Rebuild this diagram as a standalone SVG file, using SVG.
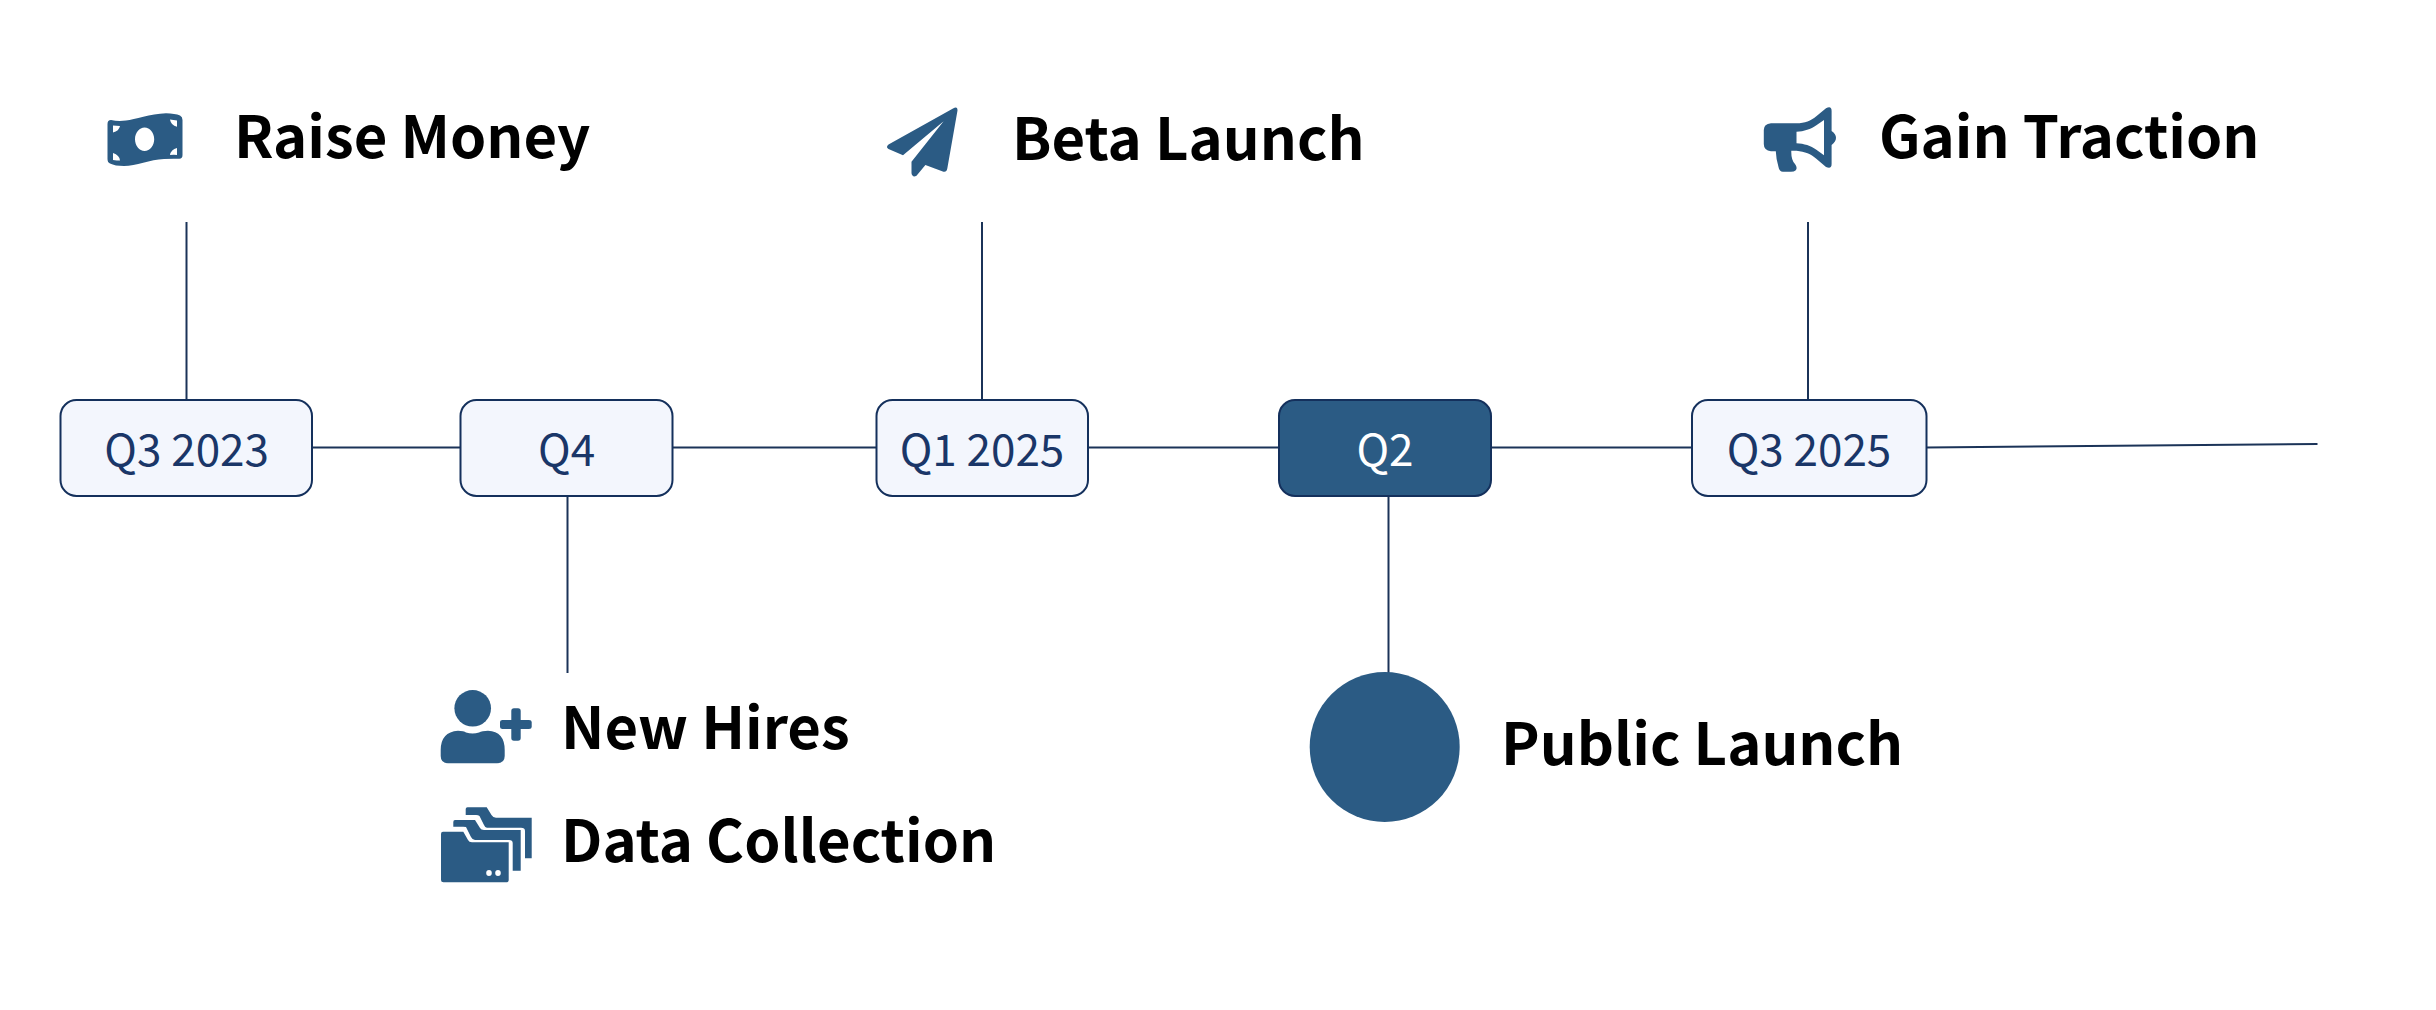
<svg xmlns="http://www.w3.org/2000/svg" width="2436" height="1010" viewBox="0 0 2436 1010">
<style>
.box{fill:#f3f6fd;stroke:#14305c;stroke-width:2}
.box.on{fill:#2b5b84}
.q{font-family:"Noto Sans CJK SC","Noto Sans",sans-serif;font-size:44px;fill:#1a3668;text-anchor:middle}
.q.on{fill:#fff}
.h{font-family:"Noto Sans CJK SC","Noto Sans",sans-serif;font-size:58px;font-weight:700;fill:#000}
.ic{fill:#2b5b84}
.hole{fill:#fff}
#connectors path{fill:none;stroke:#1b3358;stroke-width:2}
</style>
<rect width="2436" height="1010" fill="#fff"/>
<g id="connectors">
<path d="M186.5 222V399"/>
<path d="M982 222V399"/>
<path d="M1808 222V399"/>
<path d="M312 447.5H460.5"/>
<path d="M672.5 447.5H876.5"/>
<path d="M1088 447.5H1279"/>
<path d="M1491 447.5H1692"/>
<path d="M1926.5 447.5L2317.5 444"/>
<path d="M567.5 496V673"/>
<path d="M1388.5 496V673"/>
</g>
<g id="node-q3-2023"><rect class="box" x="60.5" y="400" width="251.5" height="96" rx="16"/><text class="q" x="186.6" y="466">Q3 2023</text></g>
<g id="node-q4"><rect class="box" x="460.5" y="400" width="212" height="96" rx="16"/><text class="q" x="566.6" y="466">Q4</text></g>
<g id="node-q1-2025"><rect class="box" x="876.5" y="400" width="211.5" height="96" rx="16"/><text class="q" x="982" y="466">Q1 2025</text></g>
<g id="node-q2"><rect class="box on" x="1279" y="400" width="212" height="96" rx="16"/><text class="q on" x="1385" y="466">Q2</text></g>
<g id="node-q3-2025"><rect class="box" x="1692" y="400" width="234.5" height="96" rx="16"/><text class="q" x="1809" y="466">Q3 2025</text></g>
<g id="node-raise-money">
<path class="ic" fill-rule="evenodd" d="M107.500 124Q107.500 120 111 120Q118 121.500 126 120.500C135 119.500 150 114 166 113.300Q175 113.500 180 115.500Q182.500 116.700 182.500 120V155Q182.500 159 179 158.800Q172 158.500 164 159C150 159.500 136 166 124 166Q115 166 110 163.500Q107.500 162.500 107.500 159ZM144.600 127.600C139.300 127.600 135 132.800 135 139.300C135 145.800 139.300 151 144.600 151C149.900 151 154.200 145.800 154.200 139.300C154.200 132.800 149.900 127.600 144.600 127.600ZM113 125.500V132.500Q119 131 120 126ZM170 119.500Q171 125.500 177 126.700V120.500ZM113 153V160Q117 160.500 120 160.500Q119.500 155 113 153ZM177 148Q171 149.500 170 155Q174 154.500 177 155Z"/>
<text class="h" x="234" y="157.700">Raise Money</text>
</g>
<g id="node-beta-launch">
<path class="ic" d="M953 108.500Q957.500 105.500 957.500 110.500L947.300 168.500Q946.500 172.500 943.500 171.700L925.400 165L916.500 175.700Q912.500 178 911.500 173.300V161.700L943.600 121.300L903 155.300L888.500 149Q885.500 147 888.500 144.500Z"/>
<text class="h" x="1012" y="160">Beta Launch</text>
</g>
<g id="node-gain-traction">
<path class="ic" fill-rule="evenodd" d="M1771 123.300H1796.500C1805 123.300 1811 120.500 1816 116.500L1826 108.300Q1831.600 105.500 1831.600 111V131Q1836 134 1836 137.700Q1836 141.500 1831.600 145V164Q1831.600 169.500 1826 167L1816 158.500C1811 154 1805 151.500 1796.500 150.700H1791.300Q1791 160 1795 164Q1798 168 1795.500 170.500Q1794 171.700 1791 171.700H1783Q1779.300 171.700 1778.500 167Q1776 158 1775.800 151.200H1771Q1763.800 150.500 1763.800 144V130Q1763.800 124 1771 123.300ZM1796.500 131.700V143.300C1804 143.500 1811 146 1816 149.500L1824 155.300V120L1816 125.500C1811 129 1804 131.500 1796.500 131.700Z"/>
<text class="h" x="1879" y="157.700">Gain Traction</text>
</g>
<g id="node-new-hires">
<circle class="ic" cx="472.700" cy="708.300" r="18.300"/>
<path class="ic" d="M458 730.700Q464 730.700 466 732.500Q472.700 734.500 479 732.500Q482 730.700 488 730.700Q504.700 731.500 504.700 750V756Q504.700 763.300 497 763.300H448Q440.700 763.300 440.700 756V750Q440.700 732 458 730.700Z"/>
<path class="ic" d="M511.300 711Q511.300 708.300 514 708.300H518Q520.700 708.300 520.700 711V720H529Q531.700 720 531.700 722V727Q531.700 729 529 729H520.700V738Q520.700 740.700 518 740.700H514Q511.300 740.700 511.300 738V729H502.500Q500 729 500 727V722Q500 720 502.500 720H511.300Z"/>
<text class="h" x="561" y="749.300">New Hires</text>
</g>
<g id="node-data-collection">
<path class="ic" d="M443 831.700H463.300L468 840Q469 842.300 472 842.300H508.700V880Q508.700 882.300 506 882.300H443.500Q441 882.300 441 880V834Q441 831.700 443 831.700ZM489 870A2.800 3 0 1 0 489 876A2.800 3 0 1 0 489 870ZM498 870A2.800 3 0 1 0 498 876A2.800 3 0 1 0 498 870Z" fill-rule="evenodd"/>
<path class="ic" d="M455 820H475L480 828Q481 830 484 830H520.700V870.700H512.700V843Q512.700 840 509 840H475Q472.500 840 471 837L466 827Q465 826.700 463 826.700H453.300V822Q453.300 820 455 820Z"/>
<path class="ic" d="M467.500 807.300H486.700L491.500 815Q493 817.700 496 817.700H531.700V858.300H525V831Q525 827.700 521 827.700H487Q485 827.700 484 825L479.500 816Q478.300 815 476 815H465.700V809Q465.700 807.300 467.500 807.300Z"/>
<text class="h" x="561" y="861.700">Data Collection</text>
</g>
<g id="node-public-launch">
<circle class="ic" cx="1384.700" cy="747" r="75"/>
<text class="h" x="1501" y="765">Public Launch</text>
</g>
</svg>
